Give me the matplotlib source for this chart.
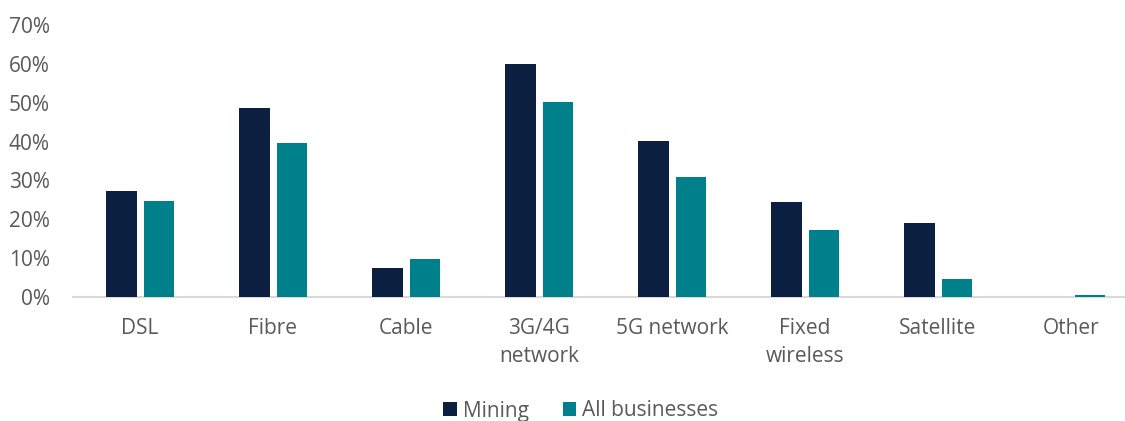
import matplotlib
matplotlib.use("Agg")
import matplotlib.pyplot as plt
import numpy as np
from matplotlib.ticker import PercentFormatter
from matplotlib.patches import Patch

categories = ["DSL", "Fibre", "Cable", "3G/4G\nnetwork", "5G network", "Fixed\nwireless", "Satellite", "Other"]
mining = [27.4, 48.8, 7.3, 60.0, 40.2, 24.4, 18.9, 0.0]
all_businesses = [24.8, 39.6, 9.6, 50.3, 30.9, 17.2, 4.6, 0.5]
series_names = ["Mining", "All businesses"]
colors = ["#0B1F40", "#00808A"]
yticks = [0, 10, 20, 30, 40, 50, 60, 70]

plt.rcParams['font.family'] = ['Open Sans', 'DejaVu Sans']

W, H = 1125, 421
fig = plt.figure(figsize=(W / 100, H / 100), dpi=100)
left_px, right_px = 73.5, 1125
bottom_px, top_px = 296.7, 25.4
ax = fig.add_axes([left_px / W, (H - bottom_px) / H, (right_px - left_px) / W, (bottom_px - top_px) / H])

x = np.arange(len(categories))
cat_w = 133.0
bw = 30.5 / cat_w
gap = 7.0 / cat_w
off = (bw + gap) / 2
ax.bar(x - off, mining, width=bw, color=colors[0], edgecolor="none", label=series_names[0], zorder=2)
ax.bar(x + off, all_businesses, width=bw, color=colors[1], edgecolor="none", label=series_names[1], zorder=2)

ax.set_xlim(-0.5, -0.5 + (right_px - left_px) / cat_w)
ax.set_ylim(0, 70)
ax.set_yticks(yticks)
ax.yaxis.set_major_formatter(PercentFormatter(decimals=0))
ax.set_xticks(x)
ax.set_xticklabels(categories, linespacing=1.45)

for s in ["top", "right", "left"]:
    ax.spines[s].set_visible(False)
ax.spines["bottom"].set_color("#D9D9D9")
ax.spines["bottom"].set_linewidth(1.5)
ax.spines["bottom"].set_zorder(1)
ax.tick_params(axis="both", length=0, labelsize=15, colors="#595959")
ax.tick_params(axis="y", pad=17)
ax.tick_params(axis="x", pad=15)

handles = [Patch(facecolor=c, edgecolor="none") for c in colors]
fig.legend(handles, series_names, loc="center", bbox_to_anchor=(581 / W, (H - 411) / H),
           ncol=2, frameon=False, fontsize=15, labelcolor="#595959",
           handlelength=0.65, handleheight=0.65, handletextpad=0.3, columnspacing=1.6)

fig.savefig("out.png", dpi=100)
